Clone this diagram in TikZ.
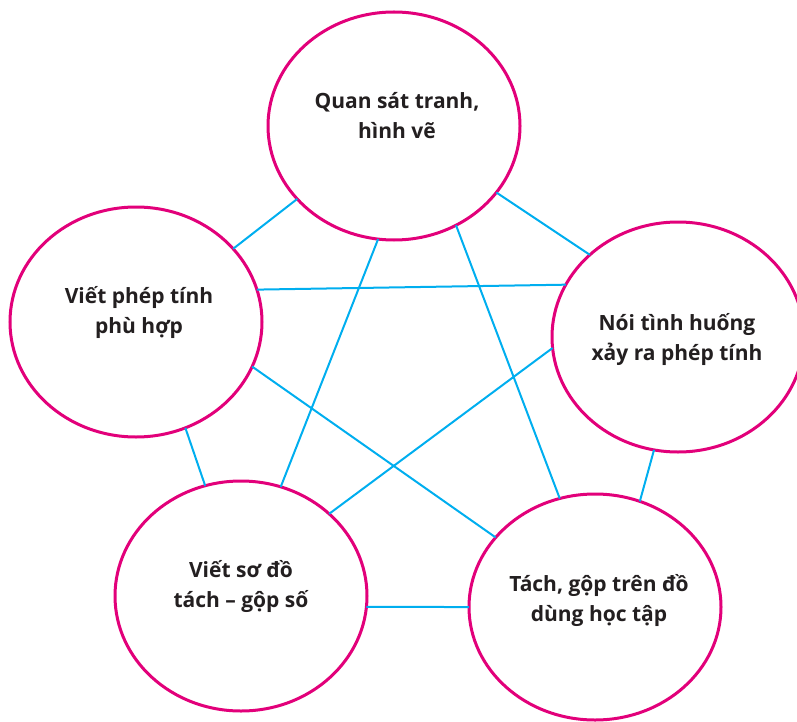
\documentclass[tikz,border=0pt]{standalone}
\usepackage{fontspec}
\setmainfont{Open Sans}
\usetikzlibrary{shapes.geometric}
\definecolor{pinkc}{HTML}{E2007A}
\definecolor{cyanc}{HTML}{00AEEF}
\definecolor{txt}{HTML}{231F20}
\begin{document}
\begin{tikzpicture}[x=1pt,y=-1pt,
  bubble/.style={ellipse,draw=pinkc,line width=3pt,fill=white,inner sep=0pt,outer sep=0pt,minimum width=252pt,minimum height=230pt},
  label/.style={align=center,text=txt,font=\bfseries\fontsize{21}{30}\selectfont,inner sep=0pt},
  link/.style={draw=cyanc,line width=2pt}]
\useasboundingbox (0,0) rectangle (797,722);
\node[bubble,minimum height=228pt] (T) at (394,126) {};
\node[bubble] (L) at (136,322) {};
\node[bubble] (R) at (678,337) {};
\node[bubble] (BL) at (241,596) {};
\node[bubble,minimum height=226pt] (BR) at (595,607) {};
\node[label] (tT) at (397,116) {Quan sát tranh,\\hình vẽ};
\node[label] (tL) at (139,312) {Viết phép tính\\phù hợp};
\node[label] (tR) at (677,339) {Nói tình huống\\xảy ra phép tính};
\node[label] (tBL) at (241,586) {Viết sơ đồ\\tách – gộp số};
\node[label] (tBR) at (599,600) {Tách, gộp trên đồ\\dùng học tập};
\draw[link] (T.217.6) -- (L.37.6);
\draw[link] (T.-33) -- (R.137);
\draw[link] (L.15.1) -- (R.155.7);
\draw[link] (T.-98) -- (BL.70.2);
\draw[link] (T.-58) -- (BR.108.1);
\draw[link] (L.-65.2) -- (BL.108.4);
\draw[link] (L.-21.6) -- (BR.145.8);
\draw[link] (R.185) -- (BL.43);
\draw[link] (R.-102.7) -- (BR.67.6);
\draw[link] (BL.-5.9) -- (BR.180.9);
\end{tikzpicture}
\end{document}
